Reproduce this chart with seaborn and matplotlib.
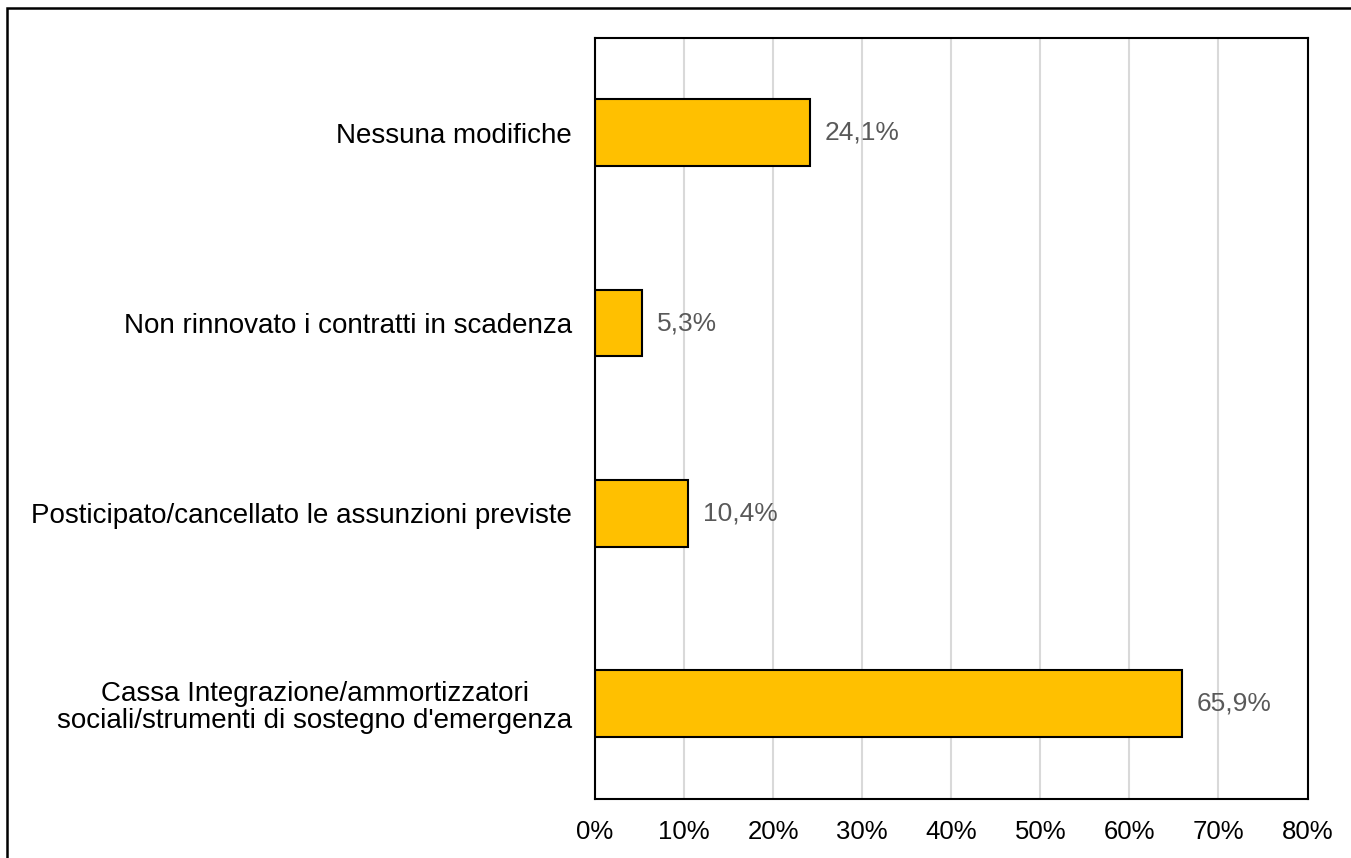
import matplotlib
matplotlib.use('Agg')
import matplotlib.pyplot as plt
import seaborn as sns
import pandas as pd
from matplotlib.patches import Rectangle
from matplotlib.ticker import FuncFormatter

# Dati
categorie = [
    'Nessuna modifiche',
    'Non rinnovato i contratti in scadenza',
    'Posticipato/cancellato le assunzioni previste',
    'Cassa Integrazione/ammortizzatori\nsociali/strumenti di sostegno d\'emergenza',
]
valori = [24.1, 5.3, 10.4, 65.9]
tick_x = [0, 10, 20, 30, 40, 50, 60, 70, 80]

df = pd.DataFrame({'Categoria': categorie, 'Valore': valori})

sns.set_style('white')
plt.rcParams['font.family'] = ['Liberation Sans', 'DejaVu Sans']

fig = plt.figure(figsize=(13.51, 8.58), dpi=100)
ax = fig.add_axes([595 / 1351, 1 - 799 / 858, (1307.5 - 595) / 1351, (799 - 37.5) / 858])

sns.barplot(data=df, x='Valore', y='Categoria', color='#FFC000', edgecolor='black',
            linewidth=1.5, width=0.35, saturation=1, ax=ax)

ax.set_xlim(0, 80)
ax.set_xticks(tick_x)
ax.xaxis.set_major_formatter(FuncFormatter(lambda v, p: f'{v:.0f}%'))
ax.grid(axis='x', color='#D9D9D9', linewidth=1.5)
ax.set_axisbelow(True)
ax.set_xlabel('')
ax.set_ylabel('')
ax.tick_params(axis='both', length=0, colors='black')
ax.tick_params(axis='x', pad=15, labelsize=18.5)
ax.tick_params(axis='y', pad=16.5, labelsize=20)
ax.set_yticks(range(len(categorie)))
ax.set_yticklabels(categorie, ha='right', multialignment='center', linespacing=1.05)

for s in ax.spines.values():
    s.set_visible(True)
    s.set_color('black')
    s.set_linewidth(1.5)

for i, v in enumerate(valori):
    ax.text(v + 1.7, i, f'{v:.1f}'.replace('.', ',') + '%', va='center', ha='left',
            fontsize=19, color='#595959')

# cornice esterna
fig.patches.append(Rectangle((7 / 1351, -0.05), 1.1, 1 - 8 / 858 + 0.05, transform=fig.transFigure,
                             fill=False, edgecolor='black', linewidth=1.8))

fig.savefig('out.png', dpi=100)
